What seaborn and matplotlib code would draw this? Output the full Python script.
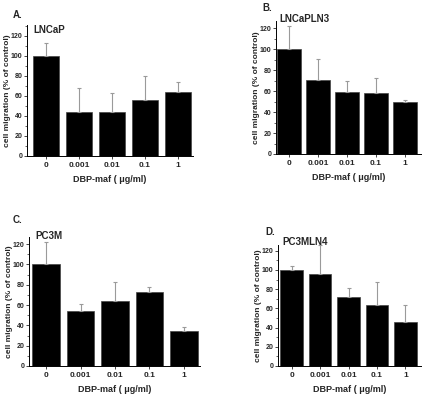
import pandas as pd
import seaborn as sns
import matplotlib.pyplot as plt
import numpy as np
from matplotlib.ticker import MultipleLocator

doses = ['0', '0.001', '0.01', '0.1', '1']

lncap_mean = [100, 44, 44, 56, 64]
lncap_top = [113, 68, 63, 80, 74]

lncapln3_mean = [100, 71, 59, 58, 50]
lncapln3_top = [122, 91, 70, 73, 52]

pc3m_mean = [100, 54, 64, 73, 34]
pc3m_top = [122, 61, 83, 78, 38]

pc3mln4_mean = [100, 96, 72, 64, 46]
pc3mln4_top = [104, 126, 81, 87, 64]

panels = [
    ('A.', 'LNCaP', lncap_mean, lncap_top),
    ('B.', 'LNCaPLN3', lncapln3_mean, lncapln3_top),
    ('C.', 'PC3M', pc3m_mean, pc3m_top),
    ('D.', 'PC3MLN4', pc3mln4_mean, pc3mln4_top),
]

sns.set_style('ticks')
plt.rcParams['font.family'] = ['Liberation Sans', 'DejaVu Sans']
plt.rcParams['font.weight'] = 'bold'

W, H = 425, 397
fig = plt.figure(figsize=(W / 100, H / 100), dpi=100)

# axes boxes in pixels: left, right, top, bottom
boxes = [
    (27, 193, 25, 156),
    (276, 421, 21, 154),
    (29, 200, 237, 366),
    (278, 421, 245, 366),
]
ylims = [131, 127, 127, 126]
xlims = [(-0.57, 4.45), (-0.45, 4.55), (-0.5, 4.47), (-0.48, 4.55)]
letter_pos = [(13, 15), (262, 8), (13, 220), (265, 232)]
name_pos = [(33, 30), (279, 19), (35, 236), (282, 242)]

for (letter, name, mean, top), (l, r, t, b), ytop, xl, lp, npos in zip(
        panels, boxes, ylims, xlims, letter_pos, name_pos):
    ax = fig.add_axes([l / W, 1 - b / H, (r - l) / W, (b - t) / H])
    df = pd.DataFrame({'dose': doses, 'value': mean})
    sns.barplot(data=df, x='dose', y='value', color='black', width=0.8,
                errorbar=None, edgecolor='#444444', linewidth=0.5,
                saturation=1, ax=ax)
    up = np.array(top) - np.array(mean)
    ax.errorbar(np.arange(len(doses)), mean, yerr=[np.zeros(len(up)), up],
                fmt='none', ecolor='#9a9a9a', elinewidth=0.8, capsize=1.5,
                capthick=0.8, zorder=1)
    ax.set_ylim(0, ytop)
    ax.set_xlim(*xl)
    ax.yaxis.set_major_locator(MultipleLocator(20))
    ax.yaxis.set_minor_locator(MultipleLocator(10))
    ax.tick_params(axis='y', which='major', labelsize=5, length=2.5, width=0.6, pad=1)
    ax.tick_params(axis='y', which='minor', length=1.5, width=0.5)
    ax.tick_params(axis='x', labelsize=6, length=2.5, width=0.6, pad=2)
    for lab in ax.get_xticklabels() + ax.get_yticklabels():
        lab.set_fontweight('bold')
    ax.set_xlabel('DBP-maf ( μg/ml)', fontsize=6.5, fontweight='bold', labelpad=4)
    ax.set_ylabel('cell migration (% of control)', fontsize=6,
                  fontweight='bold')
    ax.yaxis.set_label_coords(-16 / (r - l), 0.5)
    for s in ['top', 'right']:
        ax.spines[s].set_visible(False)
    for s in ['left', 'bottom']:
        ax.spines[s].set_linewidth(0.7)
        ax.spines[s].set_color('black')
    fig.text(lp[0] / W, 1 - lp[1] / H, letter, fontsize=7, fontweight='bold',
             va='center', ha='left')
    fig.text(npos[0] / W, 1 - npos[1] / H, name, fontsize=7, fontweight='bold',
             va='center', ha='left')

plt.savefig('out.png', dpi=100)
plt.close()
